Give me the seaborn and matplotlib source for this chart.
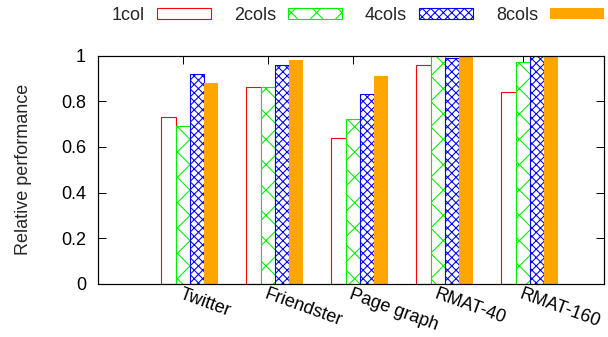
import matplotlib
matplotlib.use("Agg")
import matplotlib.pyplot as plt
import matplotlib.patches as mpatches
import seaborn as sns
import pandas as pd

graphs = ["Twitter", "Friendster", "Page graph", "RMAT-40", "RMAT-160"]
series = ["1col", "2cols", "4cols", "8cols"]
perf_1col = [0.73, 0.86, 0.64, 0.96, 0.84]
perf_2cols = [0.69, 0.86, 0.72, 1.00, 0.97]
perf_4cols = [0.92, 0.96, 0.83, 0.99, 1.00]
perf_8cols = [0.88, 0.98, 0.91, 1.00, 1.00]
y_ticks = [0, 0.2, 0.4, 0.6, 0.8, 1]
y_tick_labels = ["0", "0.2", "0.4", "0.6", "0.8", "1"]

rows = []
for name, vals in zip(series, [perf_1col, perf_2cols, perf_4cols, perf_8cols]):
    for g, v in zip(graphs, vals):
        rows.append({"graph": g, "cols": name, "perf": v})
df = pd.DataFrame(rows)

DPI = 76
sns.set_theme(style="white")
plt.rcParams["font.family"] = ["Liberation Sans", "DejaVu Sans"]
plt.rcParams["hatch.linewidth"] = 1.0

fig = plt.figure(figsize=(608 / DPI, 337 / DPI), dpi=DPI)
ax = fig.add_axes([98 / 608, 1 - 284 / 337, 506 / 608, 228.5 / 337])

sns.barplot(data=df, x="graph", y="perf", hue="cols", order=graphs,
            hue_order=series, width=0.67, saturation=1, legend=False,
            errorbar=None, ax=ax)

px = 72 / DPI  # one pixel in points
styles = {
    "1col": dict(facecolor="white", edgecolor="#ff0000", hatch=None, linewidth=1.1 * px),
    "2cols": dict(facecolor="white", edgecolor="#00ee00", hatch="x", linewidth=1.1 * px),
    "4cols": dict(facecolor="white", edgecolor="#0000ff", hatch="xxx", linewidth=1.1 * px),
    "8cols": dict(facecolor="#ffa500", edgecolor="#ffa500", hatch=None, linewidth=0),
}
for name, cont in zip(series, ax.containers):
    st = styles[name]
    for bar in cont:
        bar.set_facecolor(st["facecolor"])
        bar.set_edgecolor(st["edgecolor"])
        bar.set_linewidth(st["linewidth"])
        if st["hatch"]:
            bar.set_hatch(st["hatch"])

ax.set_ylim(0, 1)
ax.set_xlim(-1.082, 4.871)
ax.set_yticks(y_ticks)
ax.set_yticklabels(y_tick_labels)
ax.set_xticks([i - 0.082 for i in range(len(graphs))])
ax.set_xticklabels(graphs, rotation=-20, ha="left", va="top",
                   rotation_mode="anchor")
ax.set_xlabel("")
ax.set_ylabel("")

fs = 17
ax.tick_params(axis="y", direction="in", length=8 * px, width=1 * px,
               left=True, right=True, labelsize=fs, pad=12 * px, colors="black")
ax.tick_params(axis="x", direction="in", length=8 * px, width=1 * px,
               bottom=False, top=True, labelbottom=True, labelsize=fs,
               pad=2 * px, colors="black")
for sp in ax.spines.values():
    sp.set_visible(True)
    sp.set_color("black")
    sp.set_linewidth(1.2 * px)

fig.text(24 / 608, 1 - 169.5 / 337, "Relative performance", rotation=90,
         ha="center", va="center", fontsize=fs)

handles = [mpatches.Patch(facecolor=styles[n]["facecolor"],
                          edgecolor=styles[n]["edgecolor"],
                          hatch=styles[n]["hatch"],
                          linewidth=styles[n]["linewidth"]) for n in series]
fig.legend(handles, series, loc="center left",
           bbox_to_anchor=(112 / 608, 1 - 15.5 / 337), ncol=4, frameon=False,
           markerfirst=False, fontsize=fs, borderpad=0, borderaxespad=0,
           handlelength=3.0, handleheight=0.61, handletextpad=0.67,
           columnspacing=1.28)

fig.savefig("out.png", dpi=DPI)
